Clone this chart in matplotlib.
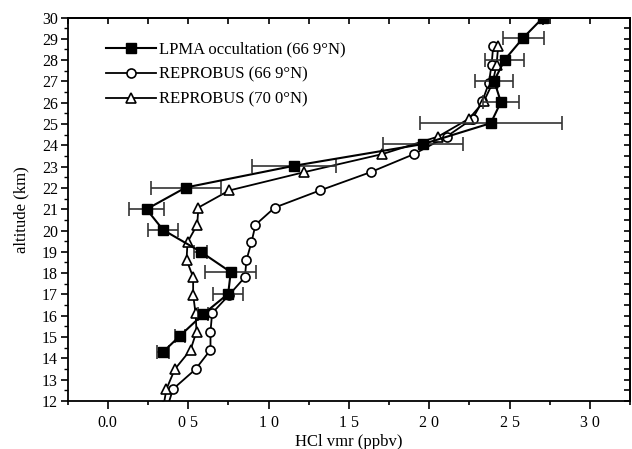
import matplotlib
matplotlib.use("Agg")
import matplotlib.pyplot as plt
from matplotlib.lines import Line2D
from matplotlib.ticker import MultipleLocator, FixedLocator, FixedFormatter

# ---- data ----
lpma_alt = [30.0, 29.04, 28.02, 27.03, 26.03, 25.04, 24.06, 23.04, 22.02, 21.0,
            20.03, 19.01, 18.05, 17.03, 16.07, 15.05, 14.3]
lpma_hcl = [2.709, 2.584, 2.470, 2.404, 2.446, 2.383, 1.962, 1.159, 0.485, 0.241,
            0.344, 0.577, 0.765, 0.749, 0.593, 0.448, 0.344]
lpma_err = [0.0, 0.128, 0.121, 0.119, 0.114, 0.443, 0.247, 0.262, 0.218, 0.109,
            0.093, 0.040, 0.158, 0.093, 0.030, 0.030, 0.038]

rep_alt = [11.7, 12.56, 13.49, 14.40, 15.26, 16.12, 16.98, 17.81, 18.62, 19.45,
           20.27, 21.08, 21.88, 22.74, 23.59, 24.41, 25.25, 26.06, 26.92, 27.78, 28.64]
rep669_hcl = [0.37, 0.406, 0.546, 0.639, 0.639, 0.649, 0.755, 0.853, 0.863, 0.894,
              0.919, 1.039, 1.319, 1.635, 1.906, 2.108, 2.27, 2.33, 2.371, 2.388, 2.398]
rep700_hcl = [0.345, 0.365, 0.417, 0.515, 0.552, 0.546, 0.531, 0.531, 0.490, 0.496,
              0.556, 0.564, 0.755, 1.222, 1.709, 2.055, 2.248, 2.340, 2.394, 2.419, 2.429]

xtick_vals = [0.0, 0.5, 1.0, 1.5, 2.0, 2.5, 3.0]
xtick_labels = ["0.0", "0 5", "1 0", "1 5", "2 0", "2 5", "3 0"]
ytick_vals = list(range(12, 31))

labels = ["LPMA occultation (66 9°N)", "REPROBUS (66 9°N)", "REPROBUS (70 0°N)"]

# ---- figure ----
plt.rcParams['font.family'] = ['Liberation Serif', 'DejaVu Serif']
fig = plt.figure(figsize=(6.32, 4.49), dpi=100)
ax = fig.add_axes([0.107, 0.107, 0.890, 0.854])

l669, = ax.plot(rep669_hcl, rep_alt, color='black', lw=1.3, marker='o', ms=6.5,
                mfc='white', mec='black', mew=1.2, zorder=3)
l700, = ax.plot(rep700_hcl, rep_alt, color='black', lw=1.3, marker='^', ms=7,
                mfc='white', mec='black', mew=1.2, zorder=3)
ax.errorbar(lpma_hcl, lpma_alt, xerr=lpma_err, color='black', lw=1.5,
            marker='s', ms=7.5, mfc='black', mec='black',
            ecolor='#333333', elinewidth=1.2, capsize=5, capthick=1.2,
            zorder=4)
lpma_handle = Line2D([], [], color='black', lw=1.5, marker='s', ms=7,
                     mfc='black', mec='black')

ax.set_xlim(-0.25, 3.25)
ax.set_ylim(12, 30)

ax.xaxis.set_major_locator(FixedLocator(xtick_vals))
ax.xaxis.set_major_formatter(FixedFormatter(xtick_labels))
ax.xaxis.set_minor_locator(MultipleLocator(0.25))
ax.yaxis.set_major_locator(FixedLocator(ytick_vals))
ax.yaxis.set_minor_locator(MultipleLocator(0.5))

ax.tick_params(axis='x', which='both', direction='out', top=False)
ax.tick_params(axis='x', which='major', length=6, width=1.2, labelsize=11.5, pad=4)
ax.tick_params(axis='x', which='minor', length=3, width=1.2)
ax.tick_params(axis='y', which='both', direction='out', right=False)
ax.tick_params(axis='y', which='major', length=5, width=1.2, labelsize=11.5, pad=2)
ax.tick_params(axis='y', which='minor', length=3, width=1.0)

# inward ticks on top and right
sec_top = ax.secondary_xaxis('top')
sec_top.xaxis.set_major_locator(MultipleLocator(0.25))
sec_top.tick_params(direction='in', length=4, width=1.2, labeltop=False)
sec_top.spines['top'].set_linewidth(1.3)
sec_right = ax.secondary_yaxis('right')
sec_right.yaxis.set_major_locator(MultipleLocator(0.5))
sec_right.tick_params(direction='in', length=4, width=1.2, labelright=False)
sec_right.spines['right'].set_linewidth(1.3)

for s in ax.spines.values():
    s.set_linewidth(1.3)

ax.set_xlabel("HCl vmr (ppbv)", fontsize=12, labelpad=2)
ax.set_ylabel("altitude (km)", fontsize=12, labelpad=9)

ax.legend([lpma_handle, l669, l700], labels, loc='upper left',
          bbox_to_anchor=(0.056, 0.955), frameon=False, fontsize=12,
          handlelength=3.0, handletextpad=0.2, labelspacing=0.55,
          borderaxespad=0)

fig.savefig("out.png", dpi=100)
